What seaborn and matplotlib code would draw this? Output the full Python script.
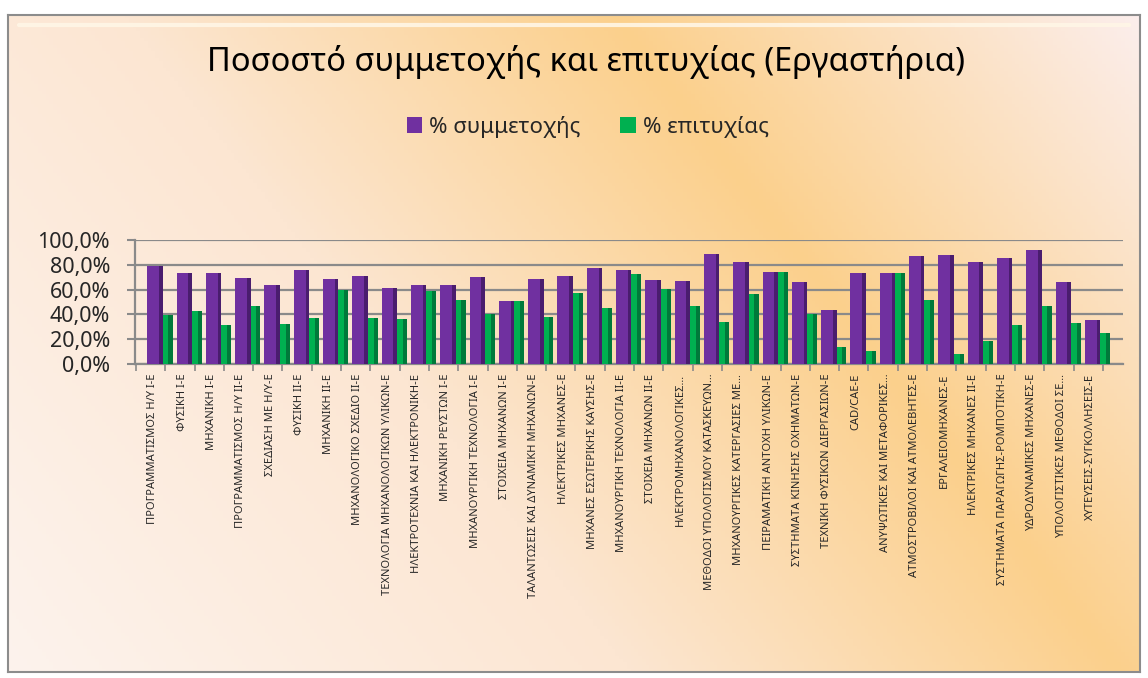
import numpy as np
import pandas as pd
import seaborn as sns
import matplotlib
matplotlib.use('Agg')
from matplotlib import pyplot as plt
from matplotlib.patches import Rectangle, Patch
from matplotlib.ticker import FuncFormatter

courses = [
    'ΠΡΟΓΡΑΜΜΑΤΙΣΜΟΣ Η/Υ Ι-Ε', 'ΦΥΣΙΚΗ Ι-Ε', 'ΜΗΧΑΝΙΚΗ Ι-Ε', 'ΠΡΟΓΡΑΜΜΑΤΙΣΜΟΣ Η/Υ ΙΙ-Ε',
    'ΣΧΕΔΙΑΣΗ ΜΕ Η/Υ-Ε', 'ΦΥΣΙΚΗ ΙΙ-Ε', 'ΜΗΧΑΝΙΚΗ ΙΙ-Ε', 'ΜΗΧΑΝΟΛΟΓΙΚΟ ΣΧΕΔΙΟ ΙΙ-Ε',
    'ΤΕΧΝΟΛΟΓΙΑ ΜΗΧΑΝΟΛΟΓΙΚΩΝ ΥΛΙΚΩΝ-Ε', 'ΗΛΕΚΤΡΟΤΕΧΝΙΑ ΚΑΙ ΗΛΕΚΤΡΟΝΙΚΗ-Ε',
    'ΜΗΧΑΝΙΚΗ ΡΕΥΣΤΩΝ Ι-Ε', 'ΜΗΧΑΝΟΥΡΓΙΚΗ ΤΕΧΝΟΛΟΓΙΑ Ι-Ε', 'ΣΤΟΙΧΕΙΑ ΜΗΧΑΝΩΝ Ι-Ε',
    'ΤΑΛΑΝΤΩΣΕΙΣ ΚΑΙ ΔΥΝΑΜΙΚΗ ΜΗΧΑΝΩΝ-Ε', 'ΗΛΕΚΤΡΙΚΕΣ ΜΗΧΑΝΕΣ-Ε',
    'ΜΗΧΑΝΕΣ ΕΣΩΤΕΡΙΚΗΣ ΚΑΥΣΗΣ-Ε', 'ΜΗΧΑΝΟΥΡΓΙΚΗ ΤΕΧΝΟΛΟΓΙΑ ΙΙ-Ε', 'ΣΤΟΙΧΕΙΑ ΜΗΧΑΝΩΝ ΙΙ-Ε',
    'ΗΛΕΚΤΡΟΜΗΧΑΝΟΛΟΓΙΚΕΣ…', 'ΜΕΘΟΔΟΙ ΥΠΟΛΟΓΙΣΜΟΥ ΚΑΤΑΣΚΕΥΩΝ…',
    'ΜΗΧΑΝΟΥΡΓΙΚΕΣ ΚΑΤΕΡΓΑΣΙΕΣ ΜΕ…', 'ΠΕΙΡΑΜΑΤΙΚΗ ΑΝΤΟΧΗ ΥΛΙΚΩΝ-Ε',
    'ΣΥΣΤΗΜΑΤΑ ΚΙΝΗΣΗΣ ΟΧΗΜΑΤΩΝ-Ε', 'ΤΕΧΝΙΚΗ ΦΥΣΙΚΩΝ ΔΙΕΡΓΑΣΙΩΝ-Ε', 'CAD/CAE-E',
    'ΑΝΥΨΩΤΙΚΕΣ ΚΑΙ ΜΕΤΑΦΟΡΙΚΕΣ…', 'ΑΤΜΟΣΤΡΟΒΙΛΟΙ ΚΑΙ ΑΤΜΟΛΕΒΗΤΕΣ-Ε',
    'ΕΡΓΑΛΕΙΟΜΗΧΑΝΕΣ-Ε', 'ΗΛΕΚΤΡΙΚΕΣ ΜΗΧΑΝΕΣ ΙΙ-Ε', 'ΣΥΣΤΗΜΑΤΑ ΠΑΡΑΓΩΓΗΣ-ΡΟΜΠΟΤΙΚΗ-Ε',
    'ΥΔΡΟΔΥΝΑΜΙΚΕΣ ΜΗΧΑΝΕΣ-Ε', 'ΥΠΟΛΟΓΙΣΤΙΚΕΣ ΜΕΘΟΔΟΙ ΣΕ…', 'ΧΥΤΕΥΣΕΙΣ-ΣΥΓΚΟΛΛΗΣΕΙΣ-Ε',
]
participation = [79.3, 73.7, 73.1, 69.1, 64.0, 75.8, 68.3, 70.7, 61.6, 63.4, 64.0, 70.4, 50.8,
                 68.5, 70.7, 77.2, 75.5, 68.0, 67.2, 88.4, 82.3, 73.9, 65.9, 43.5, 73.1,
                 73.4, 87.4, 87.9, 82.0, 85.5, 92.2, 66.4, 35.2]
success = [39.5, 42.5, 31.2, 46.8, 32.0, 37.1, 59.9, 37.1, 36.6, 58.9, 51.6, 40.3, 50.8,
           37.6, 57.3, 45.4, 72.3, 60.5, 47.0, 33.6, 56.7, 73.9, 40.6, 13.7, 10.8,
           73.4, 51.9, 8.3, 18.5, 31.5, 46.8, 32.8, 24.7]
series_names = ['% συμμετοχής', '% επιτυχίας']

PURPLE, PURPLE_DARK = '#7030A0', '#4A1D6E'
GREEN, GREEN_DARK = '#00B050', '#00793A'
GRID = '#8a8a8a'

sns.set_theme(style='white')
plt.rcParams['font.family'] = ['Noto Sans', 'DejaVu Sans']

W, H = 1148, 678
fig = plt.figure(figsize=(W / 100, H / 100), dpi=100)
fig.patch.set_facecolor('white')

# gradient background of the chart area
bg = fig.add_axes([8 / W, 1 - 672 / H, (1140 - 8) / W, (672 - 15) / H], zorder=0)
gx, gy = np.meshgrid(np.linspace(8, 1140, 300), np.linspace(15, 672, 200))
t = 520 * gx - 400 * gy
t = (t - t.min()) / (t.max() - t.min())
stops = [0.0, 0.38, 0.68, 1.0]
cols = np.array([[253, 243, 237], [252, 230, 210], [251, 208, 140], [252, 238, 236]]) / 255
img = np.stack([np.interp(t, stops, cols[:, k]) for k in range(3)], axis=-1)
bg.imshow(img, aspect='auto', extent=[0, 1, 0, 1], origin='upper')
bg.axhline(0.985, xmin=0.01, xmax=0.99, color='#fff6e6', lw=3, alpha=0.9)
bg.set_xlim(0, 1)
bg.set_ylim(0, 1)
bg.set_xticks([])
bg.set_yticks([])
for s in bg.spines.values():
    s.set_color('#8c8c8c')
    s.set_linewidth(1.5)

ax = fig.add_axes([135 / W, 1 - 364 / H, (1123 - 135) / W, (364 - 240) / H], zorder=1)
ax.patch.set_alpha(0)

df = pd.DataFrame({
    'course': courses * 2,
    'value': participation + success,
    'series': [series_names[0]] * len(courses) + [series_names[1]] * len(courses),
})
sns.barplot(data=df, x='course', y='value', hue='series', palette=[PURPLE, GREEN],
            width=0.866, saturation=1, legend=False, ax=ax, zorder=3,
            edgecolor='none', linewidth=0)

# purple bars wider than green, with a darker side face like the 3D columns
wp, wg = 0.525, 0.341
for bp, bgr in zip(ax.containers[0], ax.containers[1]):
    left = bp.get_x()
    bp.set_width(wp)
    bgr.set_x(left + wp)
    bgr.set_width(wg)
    ax.add_patch(Rectangle((left + wp - 0.12, 0), 0.12, bp.get_height(),
                           facecolor=PURPLE_DARK, edgecolor='none', linewidth=0, zorder=4))
    ax.add_patch(Rectangle((left + wp + wg - 0.14, 0), 0.14, bgr.get_height(),
                           facecolor=GREEN_DARK, edgecolor='none', linewidth=0, zorder=4))

n = len(courses)
ax.set_xlim(-0.85, 32.87)
ax.set_ylim(0, 100)
ax.set_xlabel('')
ax.set_ylabel('')
ax.set_xticks(np.arange(n) - 0.24)
ax.set_xticklabels(courses, rotation=90, fontsize=8, va='top', ha='center')
ax.set_xticks(np.arange(n + 1) - 0.816, minor=True)
ax.tick_params(axis='x', which='major', length=0, pad=7)
ax.tick_params(axis='x', which='minor', length=5, width=1.2, color=GRID, direction='out', bottom=True)
ax.set_yticks(np.arange(0, 101, 20))
ax.yaxis.set_major_formatter(FuncFormatter(lambda v, p: f'{v:.1f}%'.replace('.', ',')))
ax.tick_params(axis='y', length=6, width=1.5, color=GRID, direction='out', left=True,
               labelsize=15.5, pad=12)
ax.set_axisbelow(True)
ax.yaxis.grid(True, color=GRID, linewidth=1.6)
ax.xaxis.grid(False)
for side in ['top', 'right']:
    ax.spines[side].set_visible(False)
for side in ['left', 'bottom']:
    ax.spines[side].set_color(GRID)
    ax.spines[side].set_linewidth(1.6)

fig.text(0.5105, 1 - 62 / H, 'Ποσοστό συμμετοχής και επιτυχίας (Εργαστήρια)',
         ha='center', va='center', fontsize=23.5, color='black', zorder=5)

handles = [Patch(facecolor=PURPLE, edgecolor='none'), Patch(facecolor=GREEN, edgecolor='none')]
fig.legend(handles, series_names, loc='center', bbox_to_anchor=(0.512, 1 - 127 / H), ncol=2,
           frameon=False, fontsize=16, handlelength=0.7, handleheight=0.7, handletextpad=0.3,
           columnspacing=1.8)

fig.savefig('out.png', dpi=100)
